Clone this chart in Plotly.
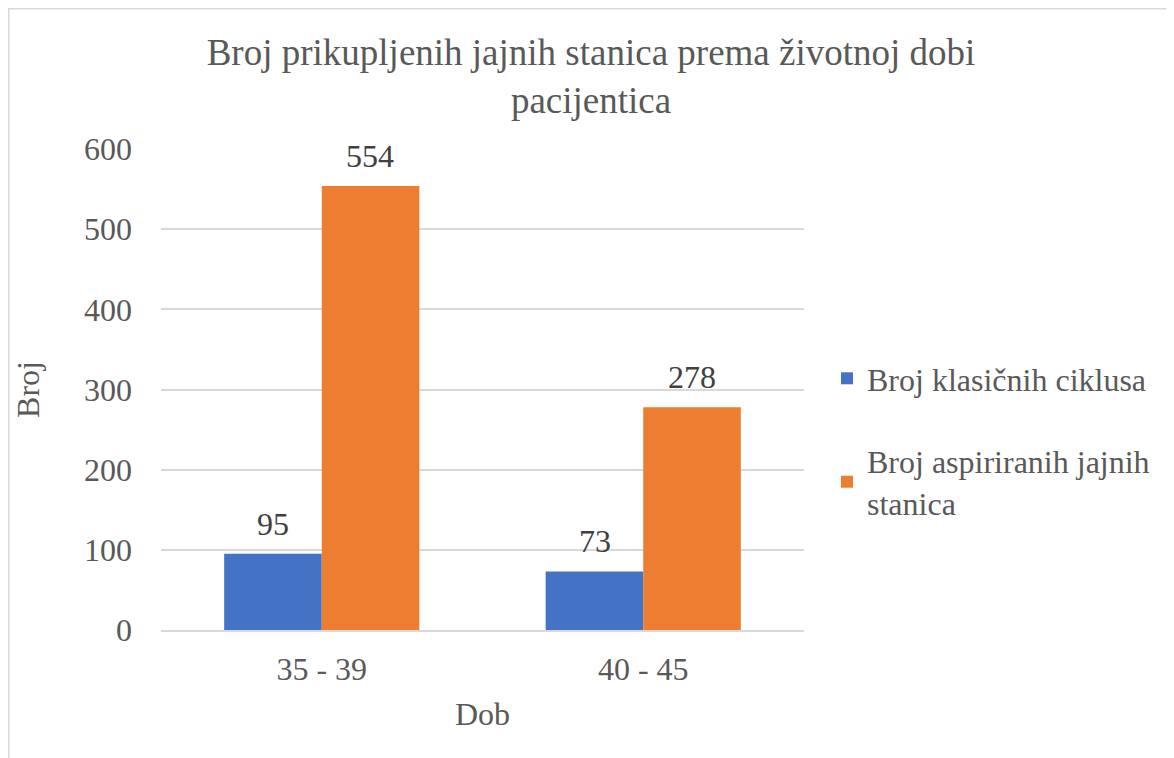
import plotly.graph_objects as go

categories = ["35 - 39", "40 - 45"]
klasicni = [95, 73]
aspirirani = [554, 278]
series_names = ["Broj klasičnih ciklusa", "Broj aspiriranih jajnih<br>stanica"]
y_ticks = [0, 100, 200, 300, 400, 500, 600]

FONT = "Liberation Serif"
GRAY = "#595959"
W, H = 1166, 750

fig = go.Figure()
fig.add_trace(go.Bar(
    x=categories, y=klasicni, name=series_names[0], legendgroup="a",
    marker=dict(color="#4472C4", line=dict(width=0)),
))
fig.add_trace(go.Bar(
    x=categories, y=aspirirani, name=series_names[1], legendgroup="b",
    marker=dict(color="#ED7D31", line=dict(width=0)),
))

# data labels above bars (offset to each bar within its group)
annotations = []
for vals, dx in ((klasicni, -48.5), (aspirirani, 48.5)):
    for c, v in zip(categories, vals):
        annotations.append(dict(x=c, y=v, xref="x", yref="y", text=str(v),
                                showarrow=False, yanchor="bottom", xshift=dx, yshift=10,
                                font=dict(family=FONT, size=32, color="#404040")))

L, R, T, B = 153, 796, 141, 622
def px_x(p): return (p - L) / (R - L)
def px_y(p): return (B - p) / (B - T)

# chart-area border
fig.add_shape(type="rect", xref="paper", yref="paper",
              x0=px_x(0.75), x1=px_x(1200), y0=px_y(800), y1=px_y(0.75),
              line=dict(color="#D9D9D9", width=1.5), fillcolor="rgba(0,0,0,0)", layer="below")

fig.update_layout(
    width=W, height=H,
    margin=dict(l=L, r=W - R, t=T, b=H - B),
    paper_bgcolor="white", plot_bgcolor="white",
    barmode="group", bargap=0.393, bargroupgap=0,
    font=dict(family=FONT, color=GRAY),
    annotations=annotations,
    title=dict(text="Broj prikupljenih jajnih stanica prema životnoj dobi<br>pacijentica",
               x=0.5, xanchor="center", xref="container",
               y=1 - 57 / H, yanchor="middle", yref="container",
               font=dict(family=FONT, size=37, color=GRAY)),
    xaxis=dict(title=dict(text="Dob", font=dict(family=FONT, size=32, color=GRAY), standoff=16),
               tickfont=dict(family=FONT, size=32, color=GRAY),
               showline=True, linecolor="#D9D9D9", linewidth=1.5,
               showgrid=False, ticks="", ticklabelstandoff=10),
    yaxis=dict(title=dict(text="Broj", font=dict(family=FONT, size=32, color=GRAY), standoff=34),
               tickfont=dict(family=FONT, size=32, color=GRAY),
               range=[0, 600], tickvals=y_ticks, ticktext=[str(t) for t in y_ticks],
               showgrid=True, gridcolor="#D9D9D9", gridwidth=1.5,
               zeroline=False, showline=False, ticks="", ticklabelstandoff=28),
    legend=dict(x=px_x(819), xanchor="left", y=px_y(343), yanchor="top",
                font=dict(family=FONT, size=32, color=GRAY),
                traceorder="grouped", tracegroupgap=38,
                itemwidth=30, bgcolor="rgba(0,0,0,0)"),
)

fig.write_html("out.html")
